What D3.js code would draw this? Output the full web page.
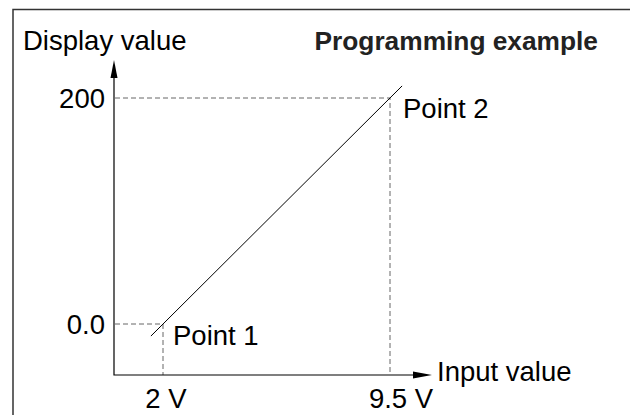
<!DOCTYPE html>
<html>
<head>
<meta charset="utf-8">
<script src="https://cdn.jsdelivr.net/npm/d3@7"></script>
<style>
  html, body { margin: 0; padding: 0; background: #fff; }
  svg text { font-family: "Liberation Sans", Arial, sans-serif; }
</style>
</head>
<body>
<div id="chart"></div>
<script>
// programmed points (input volts -> display value)
var pointNames = ["Point 1", "Point 2"];
var pointInput = [2, 9.5];
var pointDisplay = [0, 200];
var xTickLabels = ["2 V", "9.5 V"];
var yTickLabels = ["0.0", "200"];
// the drawn characteristic runs a bit past both points
var lineInput = [1.6, 9.9];
var lineDisplay = [-10.7, 210.7];

var width = 630, height = 415;
var fs = 27.5;

var svg = d3.select("#chart").append("svg")
    .attr("width", width)
    .attr("height", height);

var x = d3.scaleLinear().domain([2, 9.5]).range([163, 390]);
var y = d3.scaleLinear().domain([0, 200]).range([324, 98]);

var originX = 114, originY = 375;
var xEnd = 432, yEnd = 60;

// frame
svg.append("path")
    .attr("d", "M13," + height + "V9.5H" + width)
    .attr("fill", "none")
    .attr("stroke", "#333")
    .attr("stroke-width", 1.5);

// dashed guides
var guides = svg.append("g")
    .attr("stroke", "#666")
    .attr("stroke-width", 1)
    .attr("stroke-dasharray", "5,3")
    .attr("fill", "none");

pointInput.forEach(function(v, i) {
    guides.append("path")
        .attr("d", "M" + (originX + 1) + "," + y(pointDisplay[i]) + "H" + x(v) + "V" + originY);
});

// characteristic line
svg.append("line")
    .attr("x1", x(lineInput[0])).attr("y1", y(lineDisplay[0]))
    .attr("x2", x(lineInput[1])).attr("y2", y(lineDisplay[1]))
    .attr("stroke", "#000")
    .attr("stroke-width", 1);

// axes with arrows
svg.append("path")
    .attr("d", "M" + originX + "," + (yEnd + 16) + "V" + originY + "H" + (xEnd - 17))
    .attr("fill", "none")
    .attr("stroke", "#000")
    .attr("stroke-width", 1.2);

svg.append("path")
    .attr("d", "M" + originX + "," + yEnd + "L" + (originX - 3.5) + "," + (yEnd + 18) + "L" + (originX + 3.5) + "," + (yEnd + 18) + "Z")
    .attr("fill", "#000");

svg.append("path")
    .attr("d", "M" + xEnd + "," + originY + "L" + (xEnd - 19) + "," + (originY - 3.5) + "L" + (xEnd - 19) + "," + (originY + 3.5) + "Z")
    .attr("fill", "#000");

// tick labels
var xLabelShift = [3, 11];
svg.selectAll(".xlab")
    .data(pointInput).enter().append("text")
    .attr("class", "xlab")
    .attr("x", function(d, i) { return x(d) + xLabelShift[i]; })
    .attr("y", 408)
    .attr("text-anchor", "middle")
    .attr("font-size", fs)
    .text(function(d, i) { return xTickLabels[i]; });

svg.selectAll(".ylab")
    .data(pointDisplay).enter().append("text")
    .attr("class", "ylab")
    .attr("x", 105)
    .attr("y", function(d) { return y(d) + 10; })
    .attr("text-anchor", "end")
    .attr("font-size", fs)
    .text(function(d, i) { return yTickLabels[i]; });

// point labels
var pointDy = [21, 20];
svg.selectAll(".plab")
    .data(pointNames).enter().append("text")
    .attr("class", "plab")
    .attr("x", function(d, i) { return x(pointInput[i]) + [10, 13][i]; })
    .attr("y", function(d, i) { return y(pointDisplay[i]) + pointDy[i]; })
    .attr("font-size", fs)
    .text(function(d) { return d; });

// axis titles
svg.append("text")
    .attr("x", 23).attr("y", 50)
    .attr("font-size", fs)
    .text("Display value");

svg.append("text")
    .attr("x", 437).attr("y", 381)
    .attr("font-size", fs)
    .text("Input value");

svg.append("text")
    .attr("x", 598).attr("y", 50)
    .attr("text-anchor", "end")
    .attr("font-size", 26.3)
    .attr("font-weight", "bold")
    .attr("fill", "#222")
    .text("Programming example");
</script>
</body>
</html>
